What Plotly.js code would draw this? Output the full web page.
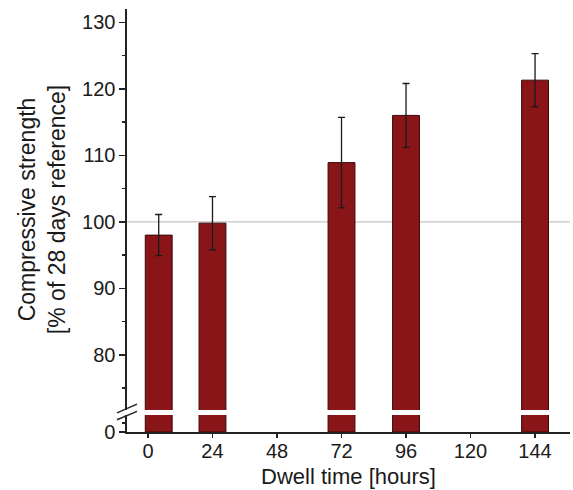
<!DOCTYPE html>
<html>
<head>
<meta charset="utf-8">
<script src="https://cdn.plot.ly/plotly-3.0.1.min.js"></script>
<style>html,body{margin:0;padding:0;background:#fff;}#chart{width:573px;height:490px;}</style>
</head>
<body>
<div id="chart"></div>
<script>
// Data
const dwellHours = [4, 24, 72, 96, 144];
const strengthPct = [98.0, 99.8, 108.9, 116.0, 121.3];
const errorPct = [3.1, 4.0, 6.8, 4.8, 4.0];
const xTickVals = [0, 24, 48, 72, 96, 120, 144];
const yTickVals = [80, 90, 100, 110, 120, 130];
const referenceLevel = 100;

const barColor = '#8a1519';
const lineColor = '#222222';
const fam = 'Liberation Sans, Arial, sans-serif';
const tickFont = {family: fam, size: 20, color: '#1a1a1a'};

const topTrace = {
  type: 'bar', x: dwellHours, y: strengthPct, width: 10,
  xaxis: 'x', yaxis: 'y2',
  marker: {color: barColor, line: {color: '#3a0808', width: 1}},
  error_y: {type: 'data', array: errorPct, visible: true, color: '#1a1a1a', thickness: 1.3, width: 3.5},
  hoverinfo: 'skip'
};
const bottomTrace = {
  type: 'bar', x: dwellHours, y: strengthPct, width: 10,
  xaxis: 'x', yaxis: 'y',
  marker: {color: barColor, line: {color: '#3a0808', width: 1}},
  hoverinfo: 'skip'
};

const axisCommon = {
  showline: true, linecolor: lineColor, linewidth: 1.6,
  ticks: 'outside', ticklen: 6, tickwidth: 1.5, tickcolor: lineColor,
  showgrid: false, zeroline: false, tickfont: tickFont, fixedrange: true
};

const layout = {
  width: 573, height: 490,
  margin: {l: 127, r: 3, t: 9, b: 58},
  paper_bgcolor: '#fff', plot_bgcolor: '#fff',
  showlegend: false, bargap: 0,
  font: tickFont,
  xaxis: Object.assign({}, axisCommon, {
    range: [-7.8, 157], tickmode: 'array', tickvals: xTickVals,
    anchor: 'y', ticklen: 4, ticklabelstandoff: -4,
    title: {text: 'Dwell time [hours]', font: {family: fam, size: 22, color: '#1a1a1a'}, standoff: 8}
  }),
  yaxis: Object.assign({}, axisCommon, {
    domain: [0, 0.040], range: [0, 2.56], tickmode: 'array', tickvals: [0],
    anchor: 'x',
    minor: {tickmode: 'array', tickvals: [1.35], ticks: 'outside', ticklen: 3, tickwidth: 1.3, tickcolor: lineColor}
  }),
  yaxis2: Object.assign({}, axisCommon, {
    domain: [0.052, 1], range: [71.7, 132], tickmode: 'array', tickvals: yTickVals,
    anchor: 'x',
    minor: {tickmode: 'linear', tick0: 75, dtick: 10, ticks: 'outside', ticklen: 3, tickwidth: 1.3, tickcolor: lineColor},
    title: {text: 'Compressive strength<br>[% of 28 days reference]', font: {family: fam, size: 23, color: '#1a1a1a'}, standoff: 10}
  }),
  shapes: [
    {type: 'line', xref: 'paper', yref: 'y2', x0: 0, x1: 1, y0: referenceLevel, y1: referenceLevel,
     line: {color: '#c4c4c4', width: 1.2}, layer: 'below'},
    {type: 'line', xref: 'paper', yref: 'paper', x0: -0.0226, x1: 0.0226, y0: 0.045, y1: 0.066,
     line: {color: lineColor, width: 1.4}},
    {type: 'line', xref: 'paper', yref: 'paper', x0: -0.0226, x1: 0.0226, y0: 0.029, y1: 0.049,
     line: {color: lineColor, width: 1.4}}
  ]
};

Plotly.newPlot('chart', [bottomTrace, topTrace], layout, {displayModeBar: false, staticPlot: true});
</script>
</body>
</html>
